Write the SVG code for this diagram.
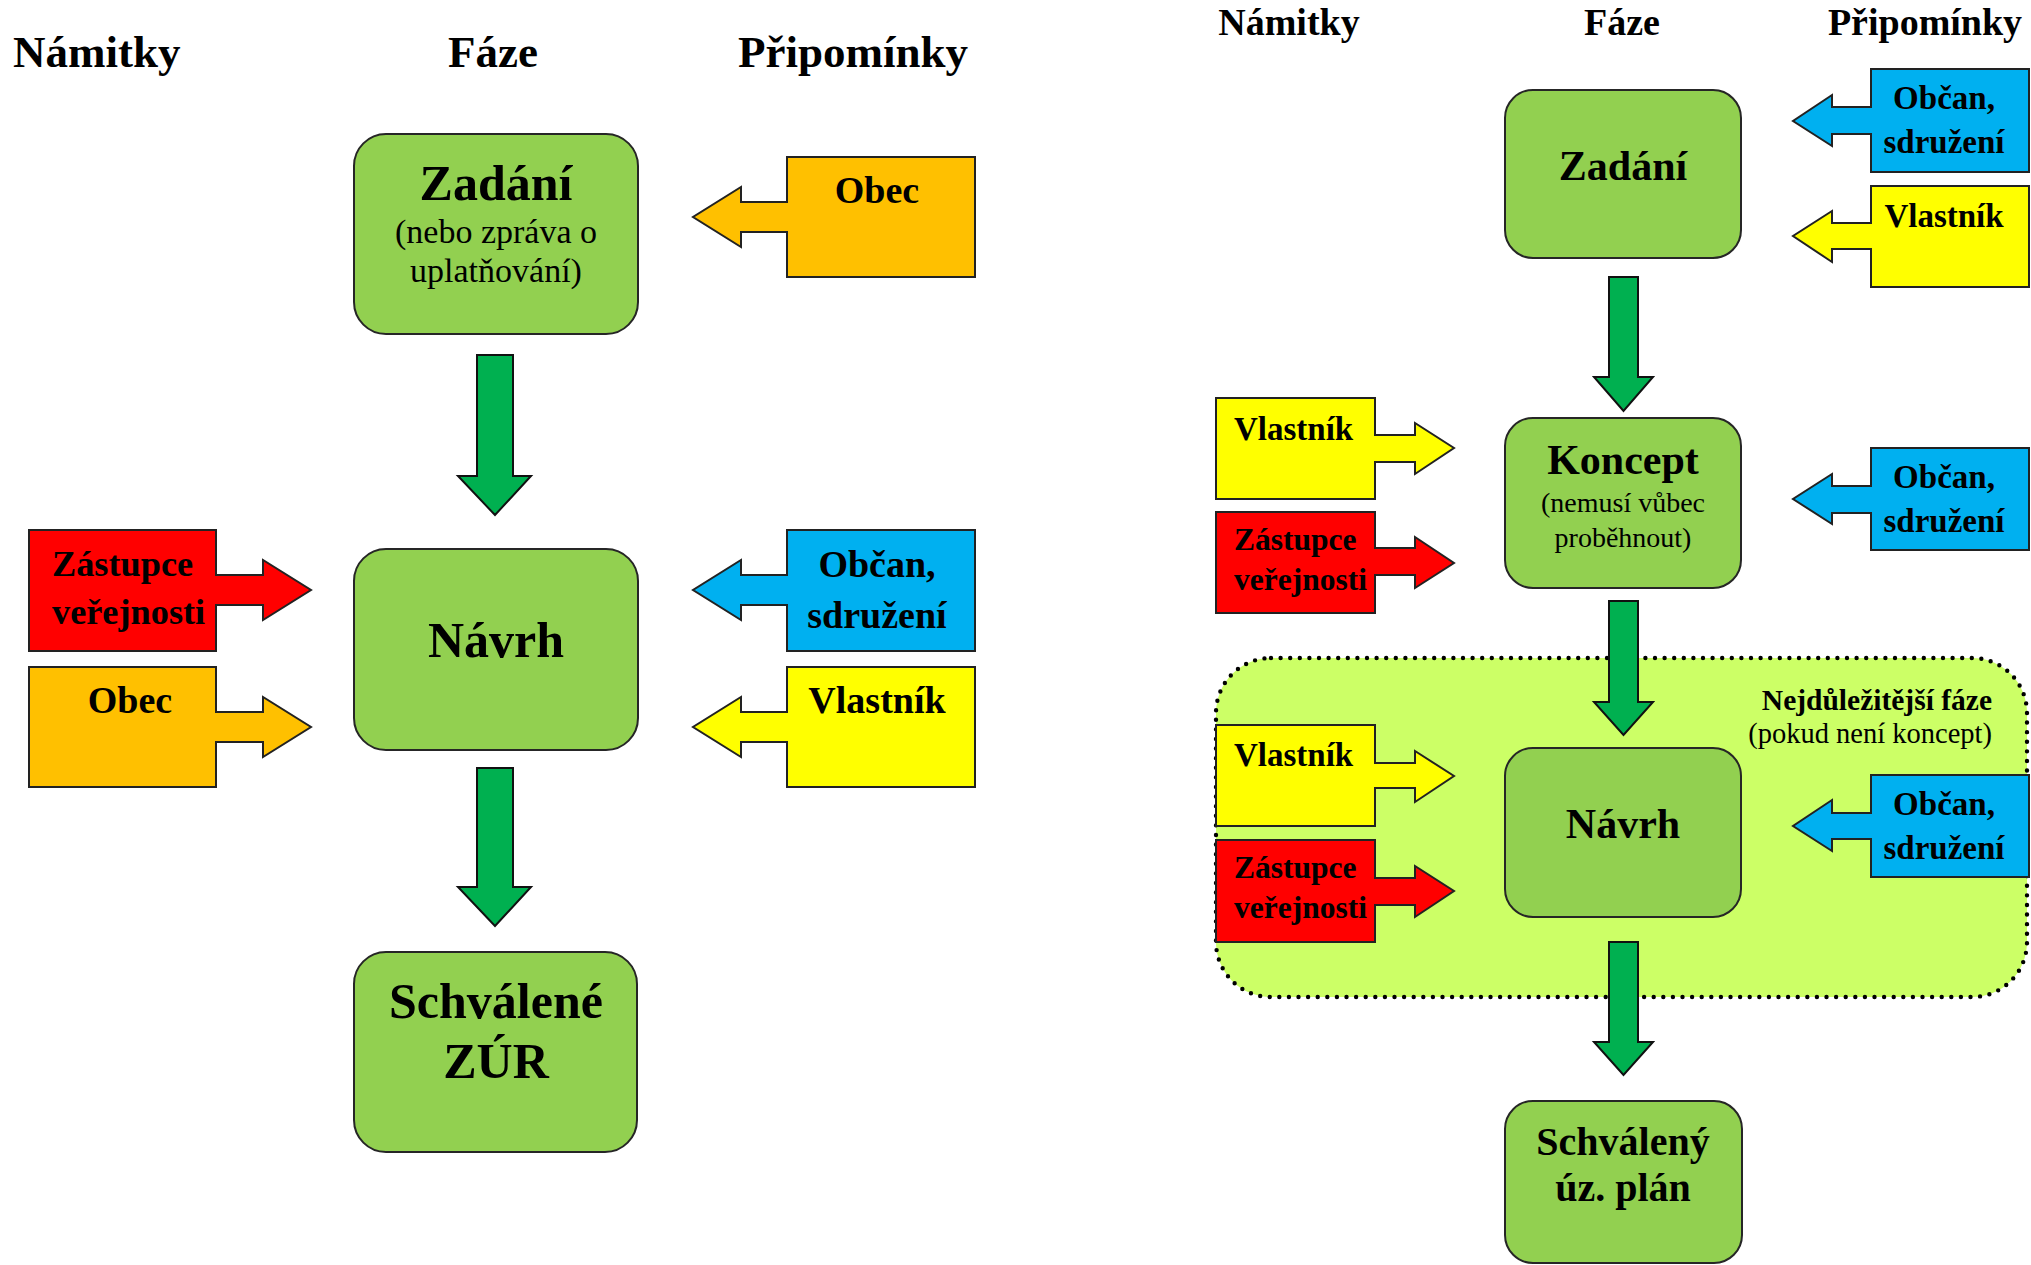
<svg xmlns="http://www.w3.org/2000/svg" width="2031" height="1265" viewBox="0 0 2031 1265">
<style>
text{font-family:"Liberation Serif","Times New Roman",serif;fill:#000}
.b{font-weight:bold}
.m{text-anchor:middle}
.e{text-anchor:end}
.phase{fill:#92D050;stroke:#262626;stroke-width:2}
.flow{fill:#00B050;stroke:#111;stroke-width:2;stroke-linejoin:miter}
.co{stroke:#222;stroke-width:2;stroke-linejoin:miter}
.red{fill:#FF0000}.ora{fill:#FFC000}.blu{fill:#00B0F0}.yel{fill:#FFFF00}
.h1{font-size:45px}.h2{font-size:38px}
.t1{font-size:50px}.s1{font-size:34px}.c1{font-size:38px}.c1z{font-size:36.3px}
.t2{font-size:42px}.s2{font-size:28px}.c2{font-size:33px}.c2z{font-size:31.5px}
</style>

<!-- headers -->
<g id="headers">
<text class="b h1" x="13" y="67">Námitky</text>
<text class="b h1 m" x="493" y="67">Fáze</text>
<text class="b h1 m" x="853" y="67">Připomínky</text>
<text class="b h2 m" x="1289" y="35">Námitky</text>
<text class="b h2 m" x="1622" y="35">Fáze</text>
<text class="b h2 m" x="1925" y="35">Připomínky</text>
</g>

<!-- important phase region -->
<g id="region-navrh">
<rect x="1216" y="658" width="811" height="339" rx="55" fill="#CCFF66" stroke="#000" stroke-width="4.4" stroke-dasharray="0 9.6" stroke-linecap="round"/>
<text class="b e" style="font-size:29.5px" x="1992" y="710">Nejdůležitější fáze</text>
<text class="e" style="font-size:28.5px" x="1992" y="743">(pokud není koncept)</text>
</g>

<!-- connectors -->
<g id="connectors">
<path class="flow" d="M477 355 H513 V476 H531 L495 515 L458 476 H477 Z"/>
<path class="flow" d="M477 768 H513 V887 H531 L495 926 L458 887 H477 Z"/>
<path class="flow" d="M1609 277 H1638 V377 H1653 L1623.5 411 L1594 377 H1609 Z"/>
<path class="flow" d="M1609 601 H1638 V702 H1653 L1623.5 735 L1594 702 H1609 Z"/>
<path class="flow" d="M1609 942 H1638 V1042 H1653 L1623.5 1075 L1594 1042 H1609 Z"/>
</g>

<!-- left diagram phases -->
<g id="zadani-1">
<rect class="phase" x="354" y="134" width="284" height="200" rx="32"/>
<text class="b t1 m" x="496" y="200">Zadání</text>
<text class="s1 m" x="496" y="243">(nebo zpráva o</text>
<text class="s1 m" x="496" y="282">uplatňování)</text>
</g>
<g id="navrh-1">
<rect class="phase" x="354" y="549" width="284" height="201" rx="32"/>
<text class="b t1 m" x="496" y="657">Návrh</text>
</g>
<g id="schvalene-zur">
<rect class="phase" x="354" y="952" width="283" height="200" rx="32"/>
<text class="b t1 m" x="496" y="1018">Schválené</text>
<text class="b t1 m" x="496" y="1078">ZÚR</text>
</g>

<!-- left diagram callouts -->
<g id="obec-pripominka-1">
<path class="co ora" d="M787 157 H975 V277 H787 V232 H741 V247 L693 217 L741 187 V202 H787 Z"/>
<text class="b c1 m" x="877" y="203">Obec</text>
</g>
<g id="zastupce-1">
<path class="co red" d="M216 530 H29 V651 H216 V605 H263 V620 L311 590 L263 560 V575 H216 Z"/>
<text class="b c1z" x="52" y="576">Zástupce</text>
<text class="b c1z" x="52" y="624">veřejnosti</text>
</g>
<g id="obec-namitka-1">
<path class="co ora" d="M216 667 H29 V787 H216 V742 H263 V757 L311 727 L263 697 V712 H216 Z"/>
<text class="b c1 m" x="130" y="713">Obec</text>
</g>
<g id="obcan-1">
<path class="co blu" d="M787 530 H975 V651 H787 V605 H741 V620 L693 590 L741 560 V575 H787 Z"/>
<text class="b c1 m" x="877" y="577">Občan,</text>
<text class="b c1 m" x="877" y="628">sdružení</text>
</g>
<g id="vlastnik-1">
<path class="co yel" d="M787 667 H975 V787 H787 V742 H741 V757 L693 727 L741 697 V712 H787 Z"/>
<text class="b c1 m" x="877" y="713">Vlastník</text>
</g>

<!-- right diagram phases -->
<g id="zadani-2">
<rect class="phase" x="1505" y="90" width="236" height="168" rx="28"/>
<text class="b t2 m" x="1623" y="180">Zadání</text>
</g>
<g id="koncept">
<rect class="phase" x="1505" y="418" width="236" height="170" rx="28"/>
<text class="b t2 m" x="1623" y="474">Koncept</text>
<text class="s2 m" x="1623" y="512">(nemusí vůbec</text>
<text class="s2 m" x="1623" y="547">proběhnout)</text>
</g>
<g id="navrh-2">
<rect class="phase" x="1505" y="748" width="236" height="169" rx="28"/>
<text class="b t2 m" x="1623" y="838">Návrh</text>
</g>
<g id="schvaleny-plan">
<rect class="phase" x="1505" y="1101" width="237" height="162" rx="28"/>
<text class="b m" style="font-size:40px" x="1623" y="1155">Schválený</text>
<text class="b m" style="font-size:40px" x="1623" y="1201">úz. plán</text>
</g>

<!-- right diagram callouts -->
<g id="obcan-2">
<path class="co blu" d="M1871 69 H2029 V172 H1871 V134 H1832 V146 L1793 121 L1832 95 V107 H1871 Z"/>
<text class="b c2 m" x="1944" y="109">Občan,</text>
<text class="b c2 m" x="1944" y="153">sdružení</text>
</g>
<g id="vlastnik-2">
<path class="co yel" d="M1871 186 H2029 V287 H1871 V249 H1832 V262 L1793 236 L1832 211 V223 H1871 Z"/>
<text class="b c2 m" x="1944" y="227">Vlastník</text>
</g>
<g id="vlastnik-3">
<path class="co yel" d="M1375 398 H1216 V499 H1375 V462 H1415 V474 L1454 448 L1415 423 V435 H1375 Z"/>
<text class="b c2" x="1234" y="440">Vlastník</text>
</g>
<g id="zastupce-2">
<path class="co red" d="M1375 512 H1216 V613 H1375 V575 H1415 V588 L1454 563 L1415 537 V548 H1375 Z"/>
<text class="b c2z" x="1234" y="550">Zástupce</text>
<text class="b c2z" x="1234" y="590">veřejnosti</text>
</g>
<g id="obcan-3">
<path class="co blu" d="M1871 448 H2029 V550 H1871 V513 H1832 V524 L1793 499 L1832 474 V486 H1871 Z"/>
<text class="b c2 m" x="1944" y="488">Občan,</text>
<text class="b c2 m" x="1944" y="532">sdružení</text>
</g>
<g id="vlastnik-4">
<path class="co yel" d="M1375 725 H1216 V826 H1375 V788 H1415 V802 L1454 776 L1415 751 V763 H1375 Z"/>
<text class="b c2" x="1234" y="766">Vlastník</text>
</g>
<g id="zastupce-3">
<path class="co red" d="M1375 840 H1216 V942 H1375 V905 H1415 V917 L1454 891 L1415 866 V878 H1375 Z"/>
<text class="b c2z" x="1234" y="878">Zástupce</text>
<text class="b c2z" x="1234" y="918">veřejnosti</text>
</g>
<g id="obcan-4">
<path class="co blu" d="M1871 775 H2029 V877 H1871 V839 H1832 V851 L1793 826 L1832 800 V813 H1871 Z"/>
<text class="b c2 m" x="1944" y="815">Občan,</text>
<text class="b c2 m" x="1944" y="859">sdružení</text>
</g>
</svg>
